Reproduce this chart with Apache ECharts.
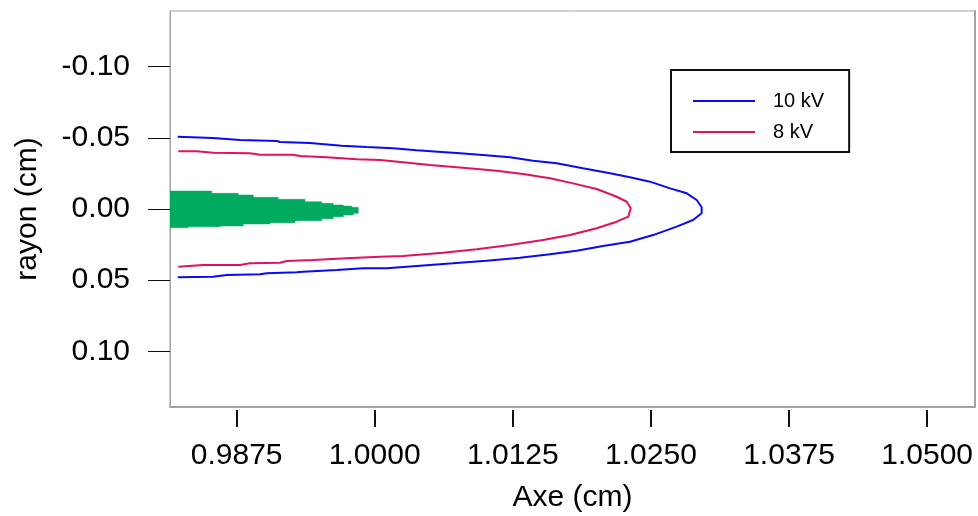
<!DOCTYPE html>
<html>
<head>
<meta charset="utf-8">
<script src="https://cdn.jsdelivr.net/npm/echarts@6/dist/echarts.min.js"></script>
<style>
html,body{margin:0;padding:0;background:#fff;}
#chart{width:978px;height:516px;}
</style>
</head>
<body>
<div id="chart"></div>
<script>
// ---- data ----
var xTicks = [0.9875, 1.0000, 1.0125, 1.0250, 1.0375, 1.0500];
var yTicks = [-0.10, -0.05, 0.00, 0.05, 0.10];
var seriesNames = ['10 kV', '8 kV'];

var blueX = [0.98217,0.98536,0.98781,0.99113,0.99143,0.99414,0.99701,0.99927,1.00165,1.00380,1.00606,1.00772,1.00980,1.01224,1.01433,1.01647,1.01885,1.02129,1.02310,1.02492,1.02673,1.02824,1.02914,1.02959,
             1.02959,1.02881,1.02733,1.02519,1.02310,1.02066,1.01828,1.01586,1.01315,1.01013,1.00708,1.00410,1.00108,0.99894,0.99656,0.99351,0.99294,0.99022,0.98962,0.98660,0.98536,0.98217];
var blueY = [-0.0508,-0.0498,-0.0484,-0.0477,-0.0470,-0.0463,-0.0444,-0.0435,-0.0426,-0.0412,-0.0400,-0.0391,-0.0379,-0.0363,-0.0339,-0.0321,-0.0286,-0.0251,-0.0223,-0.0192,-0.0145,-0.0110,-0.0063,-0.0012,
             0.0030,0.0077,0.0124,0.0183,0.0230,0.0260,0.0293,0.0318,0.0342,0.0363,0.0381,0.0398,0.0416,0.0416,0.0428,0.0440,0.0444,0.0451,0.0458,0.0463,0.0475,0.0479];

var pinkX = [0.98222,0.98389,0.98536,0.98871,0.98962,0.99260,0.99324,0.99565,0.99837,1.00048,1.00256,1.00500,1.00799,1.01104,1.01342,1.01586,1.01795,1.02009,1.02190,1.02281,1.02317,
             1.02295,1.02190,1.02009,1.01767,1.01523,1.01224,1.00923,1.00618,1.00256,1.00048,0.99746,0.99441,0.99203,0.99143,0.98871,0.98781,0.98446,0.98222];
var pinkY = [-0.0405,-0.0405,-0.0395,-0.0391,-0.0381,-0.0381,-0.0372,-0.0363,-0.0349,-0.0344,-0.0328,-0.0309,-0.0290,-0.0269,-0.0246,-0.0216,-0.0180,-0.0140,-0.0086,-0.0051,-0.0005,
             0.0054,0.0089,0.0135,0.0183,0.0218,0.0253,0.0283,0.0307,0.0330,0.0335,0.0346,0.0358,0.0365,0.0377,0.0381,0.0393,0.0393,0.0405];

// green region: staircase edges (each value holds until next x)
var greenTopX = [0.98147,0.98524,0.98765,0.98901,0.99127,0.99369,0.99520,0.99625,0.99716,0.99792,0.99851];
var greenTopY = [-0.0126,-0.0110,-0.0098,-0.0082,-0.0068,-0.0051,-0.0040,-0.0028,-0.0021,-0.0012];
var greenBotX = [0.98147,0.98313,0.98600,0.98810,0.99052,0.99278,0.99520,0.99625,0.99716,0.99806,0.99851];
var greenBotY = [0.0131,0.0124,0.0119,0.0105,0.0096,0.0082,0.0068,0.0054,0.0042,0.0030];

// ---- build ----
function pairs(xs, ys){ var o=[]; for(var i=0;i<xs.length;i++) o.push([xs[i], ys[i]]); return o; }

var X_MIN = 0.98147, X_MAX = 1.05433, Y_MIN = -0.139, Y_MAX = 0.139;
var FONT = 'Liberation Sans, Arial, Helvetica, sans-serif';
var BLUE = '#0a0af0', PINK = '#e3105f', GREEN = '#00aa5e', FRAME = '#a3a3a3', INK = '#000';

var chart = echarts.init(document.getElementById('chart'), null, {renderer:'canvas'});

var option = {
  backgroundColor: '#ffffff',
  animation: false,
  textStyle: {fontFamily: FONT},
  grid: {left: 170, right: 3, top: 11, bottom: 109, show: true, borderColor: FRAME, borderWidth: 1,
         containLabel: false, outerBoundsMode: 'none'},
  legend: {
    data: seriesNames,
    orient: 'vertical',
    left: 671, top: 70,
    icon: 'rect', itemWidth: 62, itemHeight: 2, itemGap: 11,
    padding: [21, 25, 10, 22],
    borderColor: '#111', borderWidth: 2,
    textStyle: {fontSize: 20, color: INK, fontFamily: FONT, padding: [0,0,0,13]},
    selectedMode: false
  },
  xAxis: [
    {
      type: 'value', min: X_MIN, max: X_MAX, position: 'bottom',
      axisLine: {show: true, onZero: false, lineStyle: {color: FRAME, width: 2}},
      axisTick: {show: false}, axisLabel: {show: false}, splitLine: {show: false}
    },
    {
      type: 'value', min: X_MIN, max: X_MAX, position: 'bottom', offset: 3,
      axisLine: {show: false, onZero: false},
      axisTick: {show: true, length: 17, lineStyle: {color: '#111', width: 2}, customValues: xTicks},
      axisLabel: {show: true, fontSize: 30, color: INK, margin: 31, fontFamily: FONT, customValues: xTicks,
        formatter: function(v){ return v.toFixed(4); }},
      splitLine: {show: false},
      name: 'Axe (cm)', nameLocation: 'middle', nameGap: 73,
      nameTextStyle: {fontSize: 30, color: INK, fontFamily: FONT}
    }
  ],
  yAxis: [
    {
      type: 'value', min: Y_MIN, max: Y_MAX, inverse: true, position: 'left',
      axisLine: {show: true, onZero: false, lineStyle: {color: FRAME, width: 1}},
      axisTick: {show: true, length: 22, lineStyle: {color: '#111', width: 1}, customValues: yTicks},
      axisLabel: {show: true, fontSize: 30, color: INK, margin: 40, fontFamily: FONT, customValues: yTicks,
        formatter: function(v){ return v.toFixed(2); }},
      splitLine: {show: false},
      name: 'rayon (cm)', nameLocation: 'middle', nameGap: 127, nameRotate: 90,
      nameTextStyle: {fontSize: 30, color: INK, fontFamily: FONT}
    },
    {
      type: 'value', min: Y_MIN, max: Y_MAX, inverse: true, position: 'right',
      axisLine: {show: true, onZero: false, lineStyle: {color: FRAME, width: 2}},
      axisTick: {show: false}, axisLabel: {show: false}, splitLine: {show: false}
    }
  ],
  series: [
    {
      type: 'custom', name: 'streamer', xAxisIndex: 0, yAxisIndex: 0, clip: true,
      data: [[X_MIN, 0]],
      renderItem: function(params, api){
        var pts = [];
        for (var i=0;i<greenTopY.length;i++){
          pts.push(api.coord([greenTopX[i], greenTopY[i]]));
          pts.push(api.coord([greenTopX[i+1], greenTopY[i]]));
        }
        for (var j=greenBotY.length-1;j>=0;j--){
          pts.push(api.coord([greenBotX[j+1], greenBotY[j]]));
          pts.push(api.coord([greenBotX[j], greenBotY[j]]));
        }
        return {type:'polygon', shape:{points: pts}, style:{fill: GREEN, stroke: GREEN, lineWidth: 0.5}};
      },
      silent: true, z: 2
    },
    {
      type: 'line', name: seriesNames[0], xAxisIndex: 0, yAxisIndex: 0,
      data: pairs(blueX, blueY), showSymbol: false, symbol: 'none',
      lineStyle: {color: BLUE, width: 2}, itemStyle: {color: BLUE}, z: 3
    },
    {
      type: 'line', name: seriesNames[1], xAxisIndex: 0, yAxisIndex: 0,
      data: pairs(pinkX, pinkY), showSymbol: false, symbol: 'none',
      lineStyle: {color: PINK, width: 2}, itemStyle: {color: PINK}, z: 3
    }
  ]
};
chart.setOption(option);
</script>
</body>
</html>
